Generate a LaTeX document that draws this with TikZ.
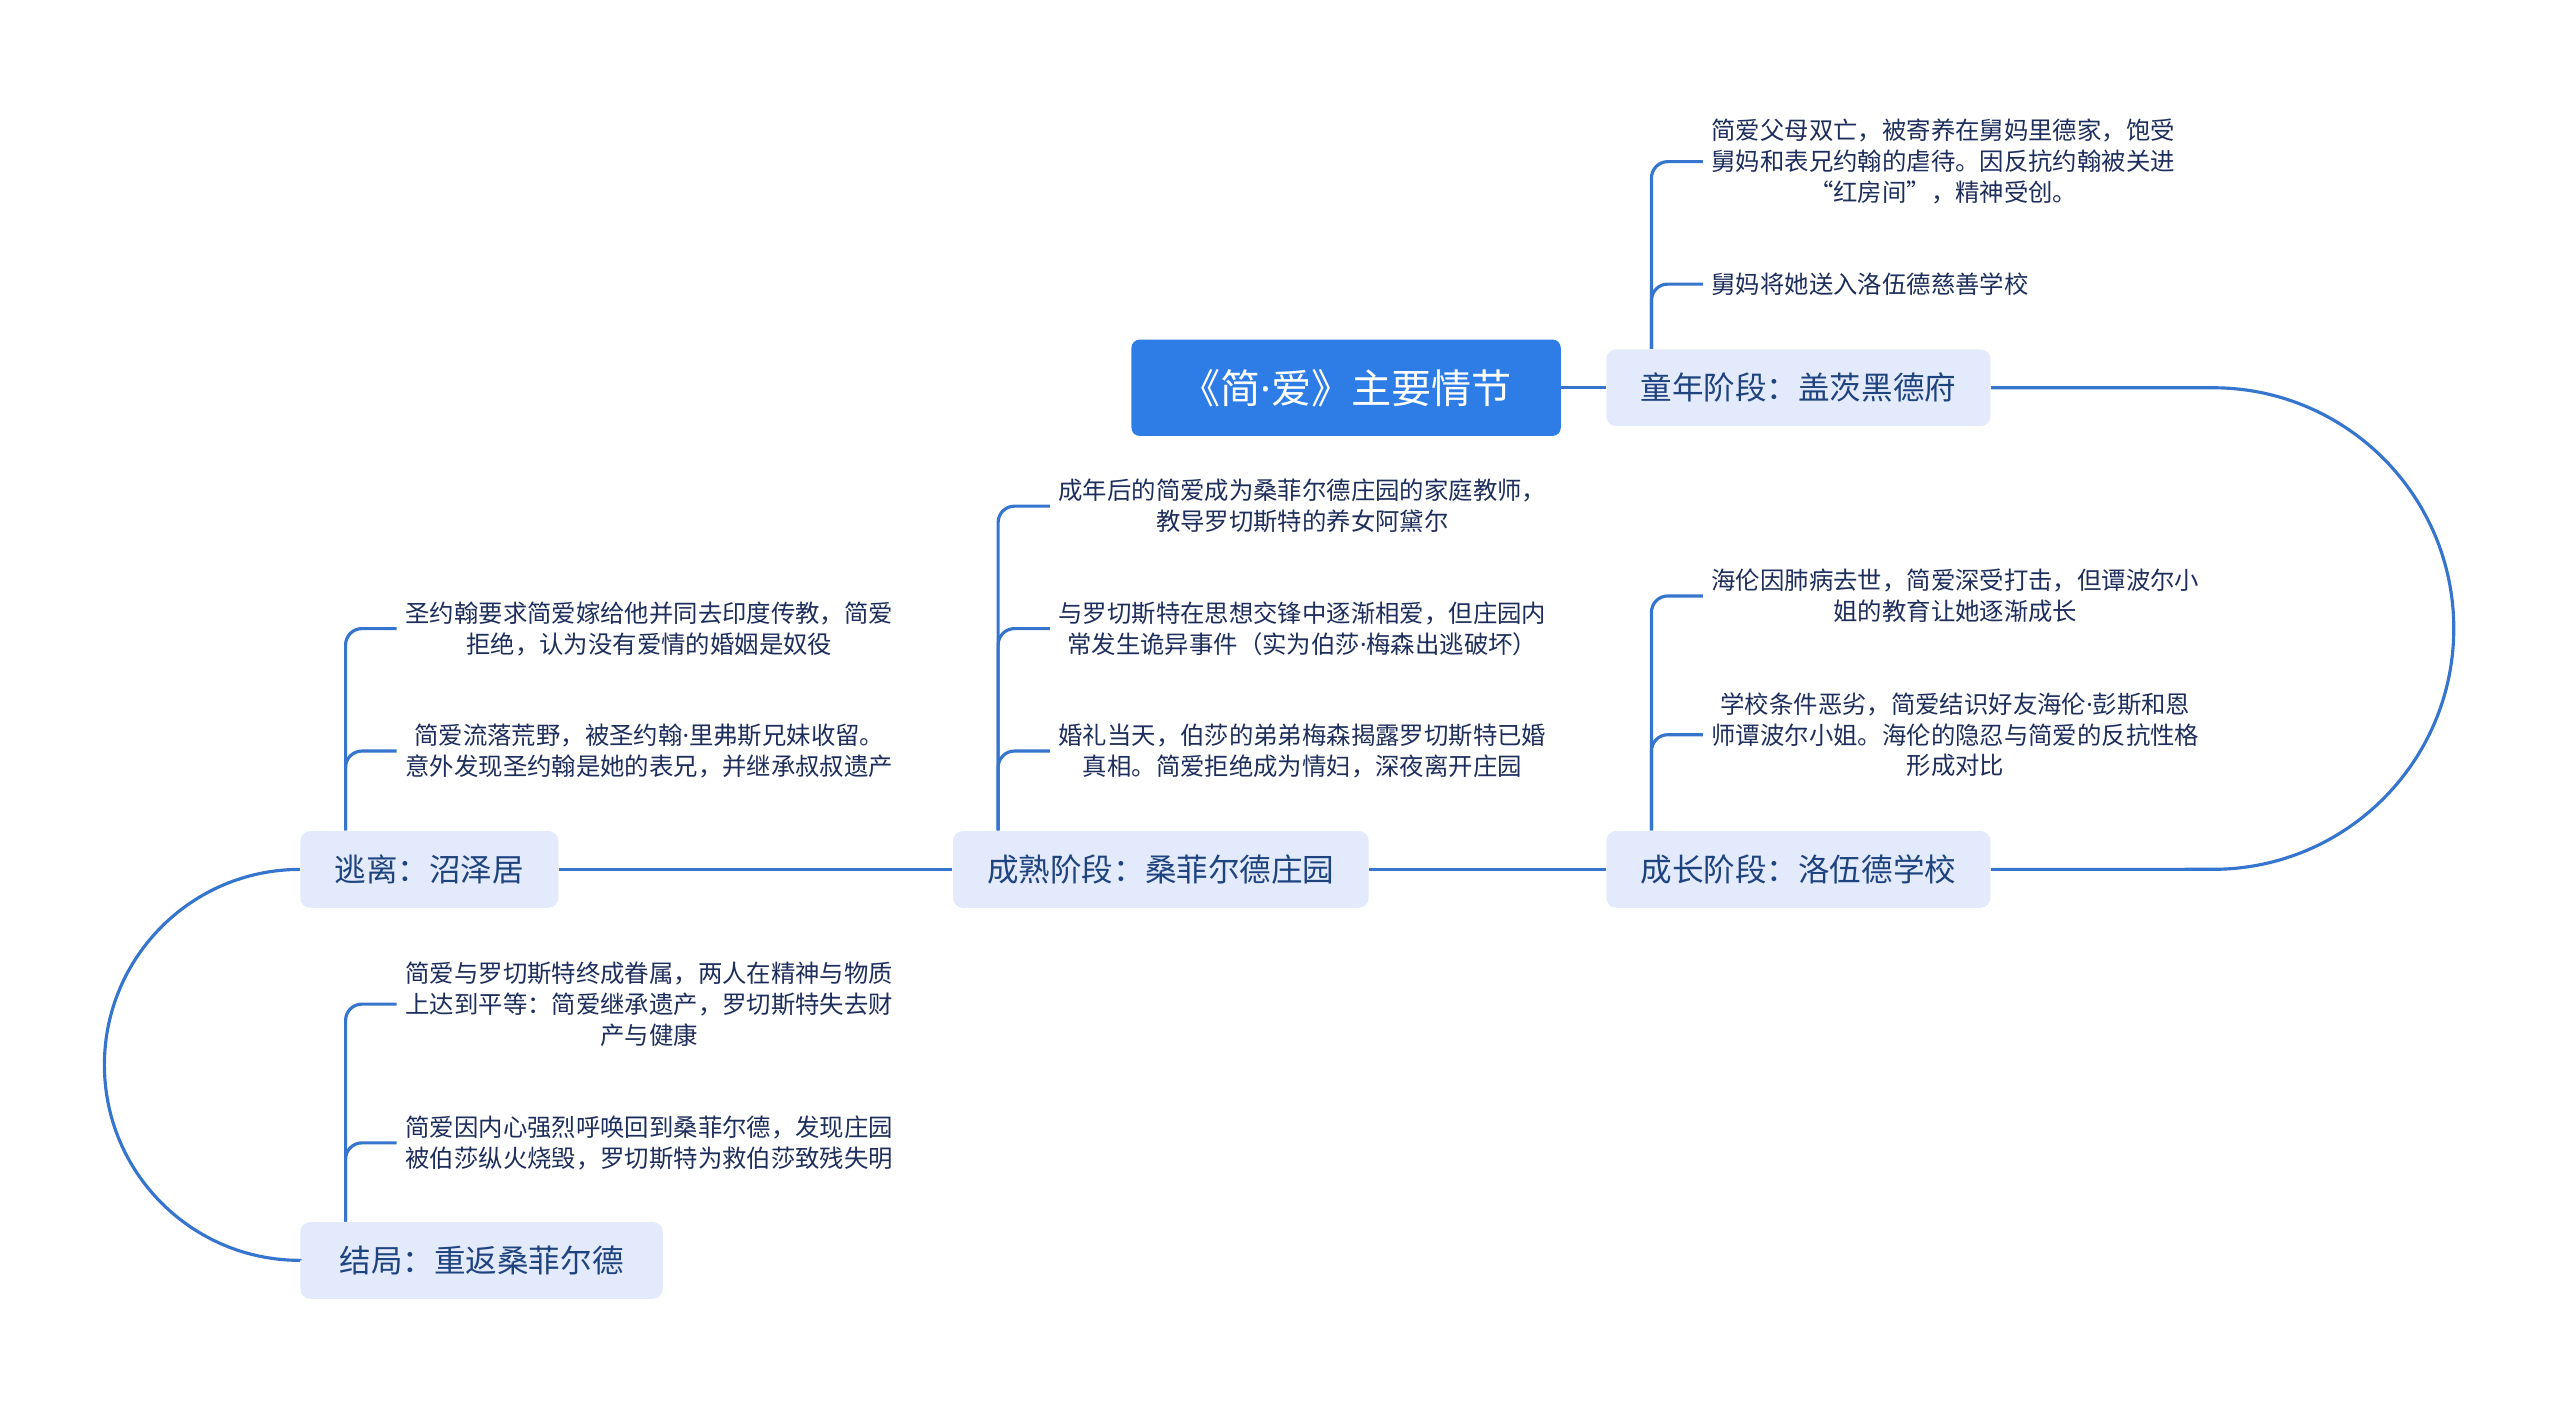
\documentclass[tikz,border=0pt]{standalone}
\usepackage{fontspec}
\setmainfont{Noto Sans CJK SC}
\newfontfamily\latinfont{Noto Sans}
\newcommand{\mdot}{{\latinfont ·}}
\usepackage{tikz}

\definecolor{rootblue}{HTML}{2E7DE6}
\definecolor{stagefill}{HTML}{E2EAFB}
\definecolor{stagetext}{HTML}{1F437F}
\definecolor{leaftext}{HTML}{1E2E5C}
\definecolor{linkblue}{HTML}{3675CD}

\begin{document}
\begin{tikzpicture}[x=0.02cm, y=-0.02cm]
\tikzstyle{every node}=[inner sep=0pt]
\tikzstyle{root}=[fill=rootblue, text=white, rounded corners=0.1cm, minimum width=5.26cm, minimum height=1.18cm, font=\fontsize{14}{16}\selectfont]
\tikzstyle{stage}=[fill=stagefill, text=stagetext, rounded corners=0.12cm, inner xsep=0.42cm, minimum height=0.94cm, font=\fontsize{11}{13}\selectfont]
\tikzstyle{leaf}=[anchor=west, align=center, text=leaftext, inner xsep=0.1cm, font=\fontsize{8.5}{10.8}\selectfont]
\tikzstyle{link}=[draw=linkblue, line width=1.1pt]
\tikzstyle{branch}=[link, rounded corners=0.2cm]

\useasboundingbox (0,0) rectangle (1568,860);

\node at (824.5,237.5) [root] (root) {《简\mdot 爱》主要情节};
\node at (1101.5,237.5) [stage] (p1) {童年阶段：盖茨黑德府};
\node at (1101.5,532.5) [stage] (p2) {成长阶段：洛伍德学校};
\node at (711,532.5) [stage] (p3) {成熟阶段：桑菲尔德庄园};
\node at (263,532.5) [stage] (p4) {逃离：沼泽居};
\node at (295,772) [stage, minimum width=4.44cm] (p5) {结局：重返桑菲尔德};

\node at (1043,99) [leaf] (p1a) {简爱父母双亡，被寄养在舅妈里德家，饱受\\舅妈和表兄约翰的虐待。因反抗约翰被关进\\“红房间”，精神受创。};
\node at (1043,174) [leaf] (p1b) {舅妈将她送入洛伍德慈善学校};
\node at (1043,365) [leaf] (p2a) {海伦因肺病去世，简爱深受打击，但谭波尔小\\姐的教育让她逐渐成长};
\node at (1043,450) [leaf] (p2b) {学校条件恶劣，简爱结识好友海伦\mdot 彭斯和恩\\师谭波尔小姐。海伦的隐忍与简爱的反抗性格\\形成对比};
\node at (643,310) [leaf] (p3a) {成年后的简爱成为桑菲尔德庄园的家庭教师，\\教导罗切斯特的养女阿黛尔};
\node at (643,385) [leaf] (p3b) {与罗切斯特在思想交锋中逐渐相爱，但庄园内\\常发生诡异事件（实为伯莎\mdot 梅森出逃破坏）};
\node at (643,460) [leaf] (p3c) {婚礼当天，伯莎的弟弟梅森揭露罗切斯特已婚\\真相。简爱拒绝成为情妇，深夜离开庄园};
\node at (243,385) [leaf] (p4a) {圣约翰要求简爱嫁给他并同去印度传教，简爱\\拒绝，认为没有爱情的婚姻是奴役};
\node at (243,460) [leaf] (p4b) {简爱流落荒野，被圣约翰\mdot 里弗斯兄妹收留。\\意外发现圣约翰是她的表兄，并继承叔叔遗产};
\node at (243,615) [leaf] (p5a) {简爱与罗切斯特终成眷属，两人在精神与物质\\上达到平等：简爱继承遗产，罗切斯特失去财\\产与健康};
\node at (243,700) [leaf] (p5b) {简爱因内心强烈呼唤回到桑菲尔德，发现庄园\\被伯莎纵火烧毁，罗切斯特为救伯莎致残失明};

% main line
\draw[link] (root) -- (p1);
\draw[link] (p1.east) -- ++(2.72cm,0) arc[start angle=90, end angle=-90, radius=2.95cm] -- (p2.east);
\draw[link] (p2) -- (p3)  (p3) -- (p4);
\draw[link] (p4.west) arc[start angle=90, end angle=270, radius=2.395cm] -- (p5.west);

% branches
\draw[branch] ([xshift=0.56cm]p1.north west) |- (p1a.west);
\draw[branch] ([xshift=0.56cm]p1.north west) |- (p1b.west);
\draw[branch] ([xshift=0.56cm]p2.north west) |- (p2a.west);
\draw[branch] ([xshift=0.56cm]p2.north west) |- (p2b.west);
\draw[branch] ([xshift=0.56cm]p3.north west) |- (p3a.west);
\draw[branch] ([xshift=0.56cm]p3.north west) |- (p3b.west);
\draw[branch] ([xshift=0.56cm]p3.north west) |- (p3c.west);
\draw[branch] ([xshift=0.56cm]p4.north west) |- (p4a.west);
\draw[branch] ([xshift=0.56cm]p4.north west) |- (p4b.west);
\draw[branch] ([xshift=0.56cm]p5.north west) |- (p5a.west);
\draw[branch] ([xshift=0.56cm]p5.north west) |- (p5b.west);
\end{tikzpicture}
\end{document}
